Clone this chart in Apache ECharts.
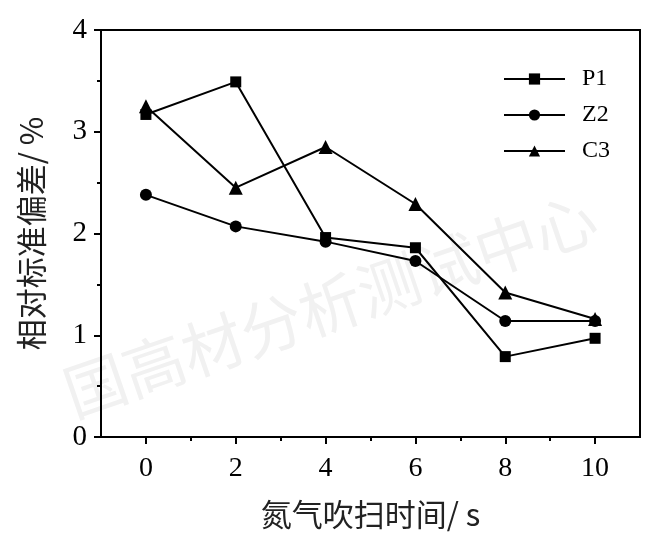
<!DOCTYPE html>
<html><head><meta charset="utf-8">
<script src="https://cdn.jsdelivr.net/npm/echarts@6/dist/echarts.min.js"></script>
<style>html,body{margin:0;padding:0;background:#fff}#c{width:666px;height:550px}</style>
</head><body><div id="c"></div>
<script>
var xValues = [0, 2, 4, 6, 8, 10];
var p1 = [3.17, 3.49, 1.96, 1.86, 0.79, 0.97];
var z2 = [2.38, 2.07, 1.92, 1.73, 1.14, 1.14];
var c3 = [3.25, 2.45, 2.85, 2.29, 1.42, 1.16];
var xMajorTicks = [0, 2, 4, 6, 8, 10];
var xMinorTicks = [1, 3, 5, 7, 9];
var seriesNames = ['P1', 'Z2', 'C3'];
var xTitle = '氮气吹扫时间/ s';
var yTitle = '相对标准偏差/ %';
var watermark = '国高材分析测试中心';

function pairs(arr){ return xValues.map(function(x,i){ return [x, arr[i]]; }); }
var serif = '"Liberation Serif", "Times New Roman", serif';
var cjk = '"Noto Sans CJK SC", sans-serif';

var chart = echarts.init(document.getElementById('c'), null, {renderer:'canvas'});
var lineBase = {
  type: 'line', lineStyle: {color:'#000', width: 2}, itemStyle: {color:'#000'},
  showSymbol: true, animation: false, z: 3
};
chart.setOption({
  backgroundColor: '#fff',
  animation: false,
  graphic: [{
    type: 'text', z: 0,
    x: 330, y: 305, rotation: 0.33,
    style: { text: watermark, font: '62px "Noto Sans CJK SC"', fill: '#f1f1f1', align: 'center', verticalAlign: 'middle' }
  }],
  grid: { left: 101, right: 26, top: 30, bottom: 113, show: true, borderColor: '#000', borderWidth: 2, backgroundColor: 'transparent' },
  legend: {
    data: seriesNames, orient: 'vertical', left: 498, top: 62, itemWidth: 61, itemHeight: 14, itemGap: 12,
    textStyle: { fontFamily: serif, fontSize: 24, lineHeight: 24, color: '#000', padding: [0,0,0,12] }
  },
  xAxis: [{
    type: 'value', min: -1, max: 11, interval: 1,
    axisLine: { show: true, onZero: false, lineStyle: {color:'#000', width: 2} },
    axisTick: { show: true, customValues: xMajorTicks, length: 7, inside: false, lineStyle: {color:'#000', width: 2} },
    axisLabel: { customValues: xMajorTicks, fontFamily: serif, fontSize: 28, color: '#000', margin: 18 },
    splitLine: { show: false },
    name: xTitle, nameLocation: 'middle', nameGap: 62,
    nameTextStyle: { fontFamily: cjk, fontSize: 31, color: '#222' }
  }, {
    type: 'value', min: -1, max: 11, interval: 1, position: 'bottom',
    axisLine: { show: false, onZero: false },
    axisTick: { show: true, customValues: xMinorTicks, length: 4, lineStyle: {color:'#000', width: 2} },
    axisLabel: { show: false }, splitLine: { show: false }
  }],
  yAxis: {
    type: 'value', min: 0, max: 4, interval: 1,
    axisLine: { show: true, onZero: false, lineStyle: {color:'#000', width: 2} },
    axisTick: { show: true, length: 7, lineStyle: {color:'#000', width: 2} },
    minorTick: { show: true, splitNumber: 2, length: 4, lineStyle: {color:'#000', width: 2} },
    axisLabel: { fontFamily: serif, fontSize: 29, color: '#000', margin: 14 },
    splitLine: { show: false },
    name: yTitle, nameLocation: 'middle', nameGap: 54, nameRotate: 90,
    nameTextStyle: { fontFamily: cjk, fontSize: 31, color: '#222' }
  },
  series: [
    Object.assign({}, lineBase, { name: seriesNames[0], symbol: 'rect', symbolSize: 11, data: pairs(p1) }),
    Object.assign({}, lineBase, { name: seriesNames[1], symbol: 'circle', symbolSize: 12, data: pairs(z2) }),
    Object.assign({}, lineBase, { name: seriesNames[2], symbol: 'triangle', symbolSize: 14, data: pairs(c3) })
  ]
});
</script></body></html>
